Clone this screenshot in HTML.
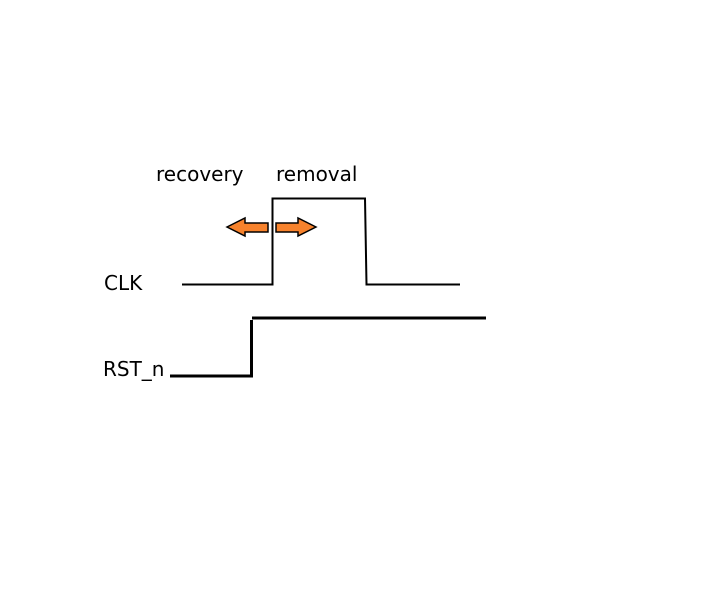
<!DOCTYPE html>
<html><head><meta charset="utf-8"><style>
html,body{margin:0;padding:0;background:#fff;width:710px;height:599px;overflow:hidden}
svg text{font-family:"DejaVu Sans","Liberation Sans",sans-serif;font-size:20px;fill:#000}
</style></head><body>
<svg width="710" height="599">
<text x="156" y="181">recovery</text>
<text x="276" y="181">removal</text>
<text x="104" y="290">CLK</text>
<text x="103" y="376">RST_n</text>
<polyline points="182,284.5 272.5,284.5 272.5,198.5 365,198.5 366.5,284.5 460,284.5" fill="none" stroke="#000" stroke-width="2"/>
<polyline points="170,376 251.5,376 251.5,320" fill="none" stroke="#000" stroke-width="3"/>
<line x1="252" y1="318" x2="486" y2="318" stroke="#000" stroke-width="3"/>
<polygon points="227,227 245,218 245,223 268,223 268,232 245,232 245,236" fill="#f7822c" stroke="#000" stroke-width="1.5"/>
<polygon points="316,227 298,218 298,223 276,223 276,232 298,232 298,236" fill="#f7822c" stroke="#000" stroke-width="1.5"/>
</svg>
</body></html>
